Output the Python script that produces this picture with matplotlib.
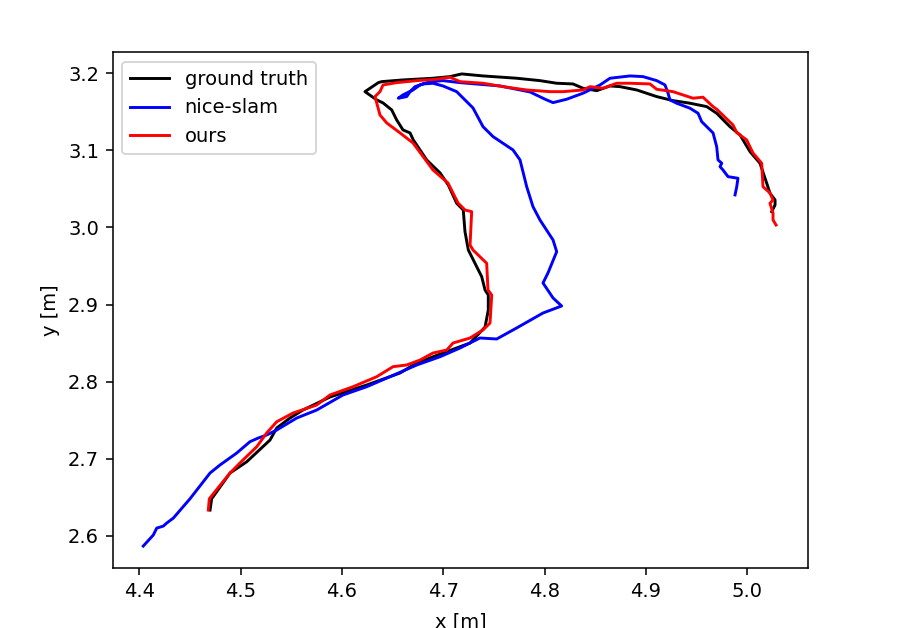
import numpy as np
import matplotlib
matplotlib.use("Agg")
import matplotlib.pyplot as plt

# trajectories (x, y in metres)
gt_x = [4.4698, 4.4714, 4.4895, 4.5060, 4.5290, 4.5356, 4.5487, 4.5615, 4.5882, 4.6244,
        4.6573, 4.6738, 4.6997, 4.7264, 4.7412, 4.7444, 4.7444, 4.7412, 4.7379, 4.7247,
        4.7214, 4.7197, 4.7132, 4.7049, 4.6968, 4.6836, 4.6704, 4.6672, 4.6602, 4.6540,
        4.6491, 4.6405, 4.6343, 4.6227, 4.6359, 4.6392, 4.6602, 4.6898, 4.7066, 4.7182,
        4.7392, 4.7724, 4.7954, 4.8119, 4.8280, 4.8379, 4.8514, 4.8645, 4.8744, 4.8909,
        4.9106, 4.9267, 4.9435, 4.9600, 4.9698, 4.9829, 4.9928, 5.0027, 5.0125, 5.0192,
        5.0224, 5.0274, 5.0274, 5.0241]
gt_y = [2.6336, 2.6482, 2.6816, 2.6962, 2.7244, 2.7400, 2.7529, 2.7633, 2.7802, 2.7957,
        2.8113, 2.8243, 2.8372, 2.8502, 2.8709, 2.8930, 2.9124, 2.9189, 2.9362, 2.9708,
        2.9946, 3.0227, 3.0314, 3.0551, 3.0707, 3.0876, 3.1135, 3.1226, 3.1265, 3.1394,
        3.1524, 3.1615, 3.1654, 3.1761, 3.1878, 3.1891, 3.1913, 3.1935, 3.1956, 3.1991,
        3.1965, 3.1935, 3.1904, 3.1870, 3.1861, 3.1805, 3.1774, 3.1835, 3.1826, 3.1783,
        3.1697, 3.1645, 3.1611, 3.1567, 3.1481, 3.1307, 3.1200, 3.0983, 3.0833, 3.0573,
        3.0444, 3.0357, 3.0292, 3.0205]

nice_x = [4.4039, 4.4138, 4.4172, 4.4237, 4.4270, 4.4336, 4.4500, 4.4698, 4.4796, 4.4961,
          4.5092, 4.5174, 4.5257, 4.5356, 4.5553, 4.5751, 4.6010, 4.6244, 4.6474, 4.6738,
          4.6968, 4.7165, 4.7362, 4.7527, 4.7724, 4.7984, 4.8168, 4.8083, 4.7984, 4.8033,
          4.8119, 4.8083, 4.7954, 4.7885, 4.7823, 4.7757, 4.7688, 4.7491, 4.7392, 4.7293,
          4.7132, 4.6997, 4.6898, 4.6800, 4.6721, 4.6672, 4.6639, 4.6556, 4.6602, 4.6701,
          4.6770, 4.6869, 4.6997, 4.7165, 4.7560, 4.7856, 4.8004, 4.8083, 4.8218, 4.8379,
          4.8547, 4.8645, 4.8843, 4.8971, 4.9106, 4.9188, 4.9218, 4.9237, 4.9303, 4.9435,
          4.9514, 4.9550, 4.9662, 4.9698, 4.9711, 4.9748, 4.9731, 4.9760, 4.9810, 4.9908,
          4.9896, 4.9879]
nice_y = [2.5869, 2.6012, 2.6102, 2.6128, 2.6167, 2.6232, 2.6482, 2.6816, 2.6920, 2.7075,
          2.7222, 2.7270, 2.7309, 2.7374, 2.7529, 2.7633, 2.7828, 2.7935, 2.8065, 2.8217,
          2.8324, 2.8437, 2.8567, 2.8554, 2.8697, 2.8891, 2.8982, 2.9086, 2.9280, 2.9410,
          2.9686, 2.9838, 3.0097, 3.0270, 3.0529, 3.0876, 3.1005, 3.1178, 3.1307, 3.1550,
          3.1761, 3.1835, 3.1870, 3.1861, 3.1826, 3.1761, 3.1697, 3.1676, 3.1719, 3.1783,
          3.1848, 3.1891, 3.1904, 3.1878, 3.1835, 3.1757, 3.1663, 3.1619, 3.1663, 3.1741,
          3.1848, 3.1935, 3.1965, 3.1956, 3.1904, 3.1848, 3.1741, 3.1654, 3.1611, 3.1546,
          3.1481, 3.1372, 3.1226, 3.1048, 3.0876, 3.0833, 3.0789, 3.0746, 3.0659, 3.0638,
          3.0529, 3.0422]

ours_x = [4.4681, 4.4691, 4.4730, 4.4895, 4.5023, 4.5159, 4.5257, 4.5356, 4.5517, 4.5751,
          4.5882, 4.6109, 4.6343, 4.6504, 4.6639, 4.6770, 4.6898, 4.7034, 4.7096, 4.7264,
          4.7392, 4.7461, 4.7478, 4.7441, 4.7428, 4.7293, 4.7264, 4.7280, 4.7214, 4.7145,
          4.7046, 4.6898, 4.6701, 4.6573, 4.6442, 4.6375, 4.6343, 4.6326, 4.6375, 4.6405,
          4.6540, 4.6738, 4.6935, 4.7066, 4.7165, 4.7392, 4.7589, 4.7823, 4.8053, 4.8181,
          4.8379, 4.8448, 4.8576, 4.8711, 4.8843, 4.9040, 4.9106, 4.9267, 4.9464, 4.9563,
          4.9662, 4.9698, 4.9859, 4.9896, 4.9994, 5.0056, 5.0142, 5.0155, 5.0224, 5.0254,
          5.0224, 5.0254, 5.0254, 5.0284]
ours_y = [2.6336, 2.6482, 2.6547, 2.6816, 2.6985, 2.7157, 2.7335, 2.7481, 2.7594, 2.7698,
          2.7828, 2.7935, 2.8065, 2.8195, 2.8217, 2.8281, 2.8372, 2.8411, 2.8502, 2.8567,
          2.8671, 2.8761, 2.9124, 2.9189, 2.9536, 2.9708, 2.9773, 3.0205, 3.0227, 3.0318,
          3.0577, 3.0746, 3.1096, 3.1226, 3.1355, 3.1459, 3.1615, 3.1697, 3.1761, 3.1848,
          3.1878, 3.1904, 3.1922, 3.1948, 3.1891, 3.1870, 3.1826, 3.1783, 3.1761, 3.1761,
          3.1783, 3.1826, 3.1805, 3.1870, 3.1870, 3.1861, 3.1792, 3.1761, 3.1676, 3.1689,
          3.1567, 3.1533, 3.1329, 3.1230, 3.1135, 3.0966, 3.0833, 3.0529, 3.0447, 3.0357,
          3.0314, 3.0188, 3.0097, 3.0032]

fig = plt.figure(figsize=(897 / 140, 628 / 140), dpi=140)
ax = fig.add_axes([0.1256, 0.0951, 0.7755, 0.8217])

ax.plot(gt_x, gt_y, color='black', label='ground truth')
ax.plot(nice_x, nice_y, color='blue', label='nice-slam')
ax.plot(ours_x, ours_y, color='red', label='ours')

ax.set_xlim(4.3737, 5.0602)
ax.set_ylim(2.5581, 3.2272)
ax.set_xlabel('x [m]', labelpad=6)
ax.set_ylabel('y [m]')
ax.legend(loc='upper left')

fig.savefig('out.png', dpi=140)
